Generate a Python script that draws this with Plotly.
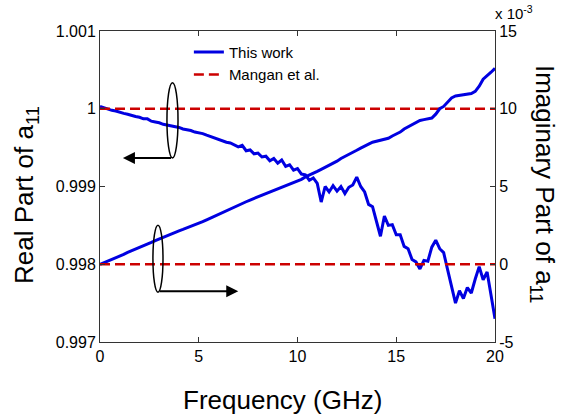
import plotly.graph_objects as go

# Frequency grid (GHz)
freq = [round(i * 0.2, 1) for i in range(101)]

# Real part of a11 (This work)
real_this = [
    1.00003, 1.00001, 1.00000, 0.99998, 0.99997, 0.99995, 0.99994, 0.99993, 0.99991, 0.99990,
    0.99989, 0.99987, 0.99987, 0.99984, 0.99983, 0.99982, 0.99980, 0.99979, 0.99978, 0.99977,
    0.99976, 0.99974, 0.99973, 0.99972, 0.99970, 0.99969, 0.99968, 0.99966, 0.99964, 0.99963,
    0.99960, 0.99959, 0.99957, 0.99956, 0.99953, 0.99951, 0.99953, 0.99946, 0.99947, 0.99942,
    0.99943, 0.99938, 0.99939, 0.99933, 0.99936, 0.99930, 0.99934, 0.99926, 0.99928, 0.99921,
    0.99923, 0.99916, 0.99915, 0.99908, 0.99911, 0.99904, 0.99880, 0.99900, 0.99893, 0.99901,
    0.99894, 0.99900, 0.99891, 0.99899, 0.99902, 0.99912, 0.99900, 0.99893, 0.99877, 0.99874,
    0.99855, 0.99836, 0.99862, 0.99850, 0.99851, 0.99838, 0.99838, 0.99823, 0.99820, 0.99806,
    0.99803, 0.99794, 0.99805, 0.99804, 0.99822, 0.99831, 0.99820, 0.99815, 0.99793, 0.99772,
    0.99750, 0.99766, 0.99756, 0.99770, 0.99763, 0.99781, 0.99797, 0.99780, 0.99790, 0.99760,
    0.99730,
]

# Imaginary part of a11 (This work), in units of 1e-3
imag_this = [
    0.00, 0.10, 0.22, 0.31, 0.43, 0.53, 0.63, 0.76, 0.86, 0.97,
    1.08, 1.19, 1.29, 1.40, 1.52, 1.63, 1.74, 1.86, 1.95, 2.05,
    2.15, 2.24, 2.33, 2.42, 2.53, 2.63, 2.74, 2.86, 2.98, 3.10,
    3.22, 3.34, 3.45, 3.58, 3.71, 3.82, 3.94, 4.02, 4.13, 4.23,
    4.34, 4.44, 4.55, 4.65, 4.77, 4.86, 4.95, 5.05, 5.14, 5.24,
    5.35, 5.46, 5.62, 5.72, 5.85, 5.97, 6.10, 6.22, 6.36, 6.50,
    6.63, 6.80, 6.92, 7.05, 7.19, 7.33, 7.47, 7.62, 7.72, 7.85,
    7.90, 7.96, 8.03, 8.10, 8.25, 8.38, 8.50, 8.70, 8.85, 9.00,
    9.14, 9.25, 9.30, 9.36, 9.40, 9.65, 10.00, 10.15, 10.45, 10.70,
    10.82, 10.86, 10.88, 10.92, 10.98, 11.12, 11.45, 11.90, 12.10, 12.35,
    12.60,
]

# Mangan et al. reference values
mangan_freq = [0, 20]
mangan_real = [1.0, 1.0]
mangan_imag = [0.0, 0.0]

left_ticks = [0.997, 0.998, 0.999, 1.0, 1.001]
left_ticktext = ["0.997", "0.998", "0.999", "1", "1.001"]
right_ticks = [-5, 0, 5, 10, 15]
right_ticktext = ["-5", "0", "5", "10", "15"]
x_ticks = [0, 5, 10, 15, 20]

BLUE = "rgb(0,0,225)"
RED = "rgb(204,0,0)"
FONT = "Liberation Sans, Arial, Helvetica, sans-serif"

fig = go.Figure()
fig.add_trace(go.Scatter(x=freq, y=real_this, mode="lines", name="This work",
                         line=dict(color=BLUE, width=3), yaxis="y"))
fig.add_trace(go.Scatter(x=mangan_freq, y=mangan_real, mode="lines", name="Mangan et al.",
                         line=dict(color=RED, width=2.5, dash="10px,5px"), yaxis="y"))
fig.add_trace(go.Scatter(x=freq, y=imag_this, mode="lines", name="This work",
                         line=dict(color=BLUE, width=3), yaxis="y2", showlegend=False))
fig.add_trace(go.Scatter(x=mangan_freq, y=mangan_imag, mode="lines", name="Mangan et al.",
                         line=dict(color=RED, width=2.5, dash="10px,5px"), yaxis="y2",
                         showlegend=False))

axis_common = dict(showgrid=False, zeroline=False, showline=True, linecolor="#333333",
                   linewidth=1, ticks="inside", ticklen=5, tickcolor="#333333",
                   tickfont=dict(family=FONT, size=16, color="black"))

fig.update_layout(
    width=564, height=419,
    margin=dict(l=100, r=69, t=31, b=77),
    paper_bgcolor="white", plot_bgcolor="white",
    font=dict(family=FONT, color="black"),
    xaxis=dict(range=[0, 20], tickvals=x_ticks, mirror="ticks", **axis_common),
    yaxis=dict(range=[0.997, 1.001], tickvals=left_ticks, ticktext=left_ticktext,
               mirror=True, **axis_common),
    yaxis2=dict(range=[-5, 15], tickvals=right_ticks, ticktext=right_ticktext,
                overlaying="y", side="right", **axis_common),
    legend=dict(x=0.225, y=0.985, xanchor="left", yanchor="top",
                bgcolor="rgba(0,0,0,0)", borderwidth=0,
                font=dict(family=FONT, size=15, color="black"),
                tracegroupgap=0),
    showlegend=True,
)

# Axis titles
fig.add_annotation(text="Frequency (GHz)", xref="paper", yref="paper", x=0.463, y=-0.187,
                   xanchor="center", yanchor="middle", showarrow=False,
                   font=dict(family=FONT, size=26, color="black"))
fig.add_annotation(text="Real Part of a<sub>11</sub>", xref="paper", yref="paper",
                   x=-0.187, y=0.473, textangle=-90, xanchor="center", yanchor="middle",
                   showarrow=False, font=dict(family=FONT, size=26, color="black"))
fig.add_annotation(text="Imaginary Part of a<sub>11</sub>", xref="paper", yref="paper",
                   x=1.1215, y=0.505, textangle=90, xanchor="center", yanchor="middle",
                   showarrow=False, font=dict(family=FONT, size=26, color="black"))
fig.add_annotation(text="x 10<sup>-3</sup>", xref="paper", yref="paper", x=0.995, y=1.06,
                   xanchor="left", yanchor="middle", showarrow=False,
                   font=dict(family=FONT, size=15, color="black"))

# Ellipses marking which axis each curve belongs to
fig.add_shape(type="circle", xref="x", yref="y", x0=3.39, x1=3.95, y0=0.999368, y1=1.000335,
              line=dict(color="black", width=1.5))
fig.add_shape(type="circle", xref="x", yref="y", x0=2.68, x1=3.19, y0=0.997639, y1=0.998503,
              line=dict(color="black", width=1.5))

# Arrows
fig.add_annotation(x=1.16, y=0.999368, ax=3.67, ay=0.999368, xref="x", yref="y",
                   axref="x", ayref="y", showarrow=True, arrowhead=2, arrowsize=1.2,
                   arrowwidth=2, arrowcolor="black", text="")
fig.add_annotation(x=7.0, y=0.997652, ax=2.94, ay=0.997652, xref="x", yref="y",
                   axref="x", ayref="y", showarrow=True, arrowhead=2, arrowsize=1.2,
                   arrowwidth=2, arrowcolor="black", text="")

fig.write_html("out.html")
